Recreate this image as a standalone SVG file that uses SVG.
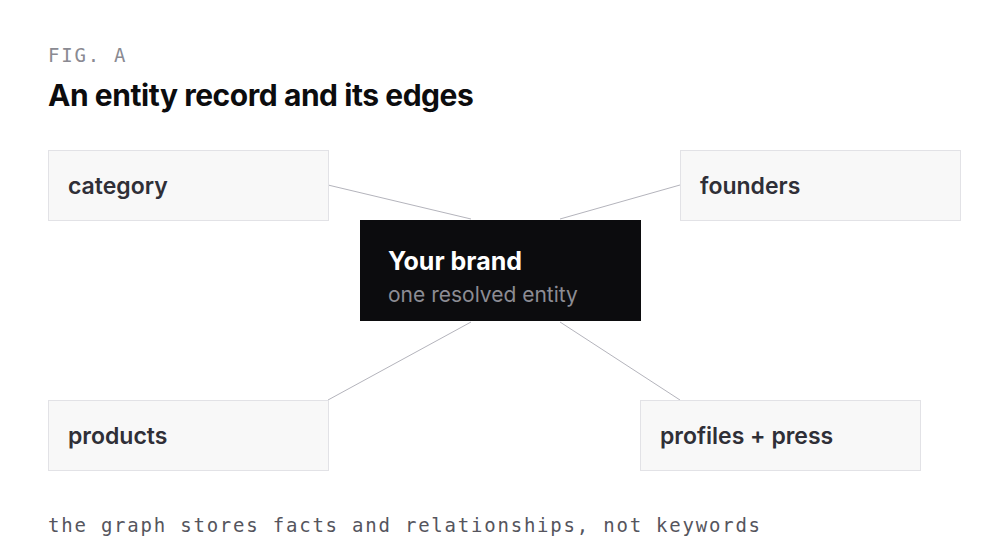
<svg xmlns="http://www.w3.org/2000/svg" width="1000" height="560" viewBox="0 0 1000 560">
<style>
.mono{font-family:"DejaVu Sans Mono","Liberation Mono",monospace;font-size:19px;letter-spacing:1.78px;fill:#55555d}
.title{font-family:Inter,"Liberation Sans",sans-serif;font-size:30px;font-weight:700;fill:#0c0c0e;letter-spacing:-0.45px}
.box{fill:#f8f8f8;stroke:#e2e2e6;stroke-width:1}
.lbl{font-family:Inter,"Liberation Sans",sans-serif;font-size:23px;font-weight:600;fill:#2f2f37}
.edge{stroke:#b4b4bc;stroke-width:1;fill:none}
</style>
<rect width="1000" height="560" fill="#ffffff"/>
<text class="mono" x="48" y="62" style="fill:#8a8a92">FIG. A</text>
<text class="title" x="48" y="106">An entity record and its edges</text>
<g id="connectors">
<line class="edge" x1="328" y1="185" x2="471" y2="219"/>
<line class="edge" x1="680" y1="185" x2="560" y2="219"/>
<line class="edge" x1="328" y1="400" x2="471" y2="322"/>
<line class="edge" x1="680" y1="400" x2="560" y2="322"/>
</g>
<g id="node-category"><rect class="box" x="48.5" y="150.5" width="280" height="70"/><text class="lbl" x="68" y="194">category</text></g>
<g id="node-founders"><rect class="box" x="680.5" y="150.5" width="280" height="70"/><text class="lbl" x="700" y="194">founders</text></g>
<g id="node-products"><rect class="box" x="48.5" y="400.5" width="280" height="70"/><text class="lbl" x="68" y="444">products</text></g>
<g id="node-profiles"><rect class="box" x="640.5" y="400.5" width="280" height="70"/><text class="lbl" x="660" y="444">profiles + press</text></g>
<g id="node-brand"><rect x="360" y="220" width="281" height="101" fill="#0c0c0e"/>
<text x="388" y="270" font-family="Inter,'Liberation Sans',sans-serif" font-size="25" font-weight="700" fill="#ffffff">Your brand</text>
<text x="388" y="302" font-family="Inter,'Liberation Sans',sans-serif" font-size="21" fill="#8c8c94">one resolved entity</text></g>
<text class="mono" x="48" y="532">the graph stores facts and relationships, not keywords</text>
</svg>
